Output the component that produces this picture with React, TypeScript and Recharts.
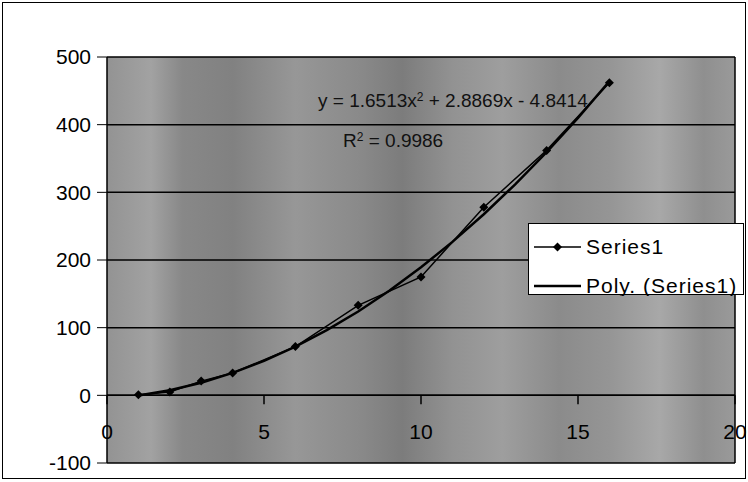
import React from 'react';
import {
  ComposedChart,
  Scatter,
  XAxis,
  YAxis,
  CartesianGrid,
  ReferenceLine,
  Legend,
} from 'recharts';

// Series1 observed values
const seriesX = [1, 2, 3, 4, 6, 8, 10, 12, 14, 16];
const seriesY = [1, 5, 21, 33, 72, 133, 175, 278, 362, 462];

// Poly. (Series1) trendline: y = 1.6513x^2 + 2.8869x - 4.8414, sampled at x = 1..16
const trendX = [1, 2, 3, 4, 5, 6, 7, 8, 9, 10, 11, 12, 13, 14, 15, 16];
const trendY = [
  -0.3, 7.54, 18.68, 33.13, 50.88, 71.93, 96.28, 123.94, 154.9, 189.16, 226.72,
  267.59, 311.76, 359.23, 410.0, 464.08,
];

const xTicks = [0, 5, 10, 15, 20];
const yTicks = [-100, 0, 100, 200, 300, 400, 500];

const equationText = 'y = 1.6513x';
const equationRest = ' + 2.8869x - 4.8414';
const rSquaredText = ' = 0.9986';

const seriesData = seriesX.map((x, i) => ({ x, y: seriesY[i] }));
const trendData = trendX.map((x, i) => ({ x, y: trendY[i] }));

const FONT = '"Liberation Sans", Arial, sans-serif';

const Diamond = (props: any) => {
  const { cx, cy } = props;
  if (cx == null || cy == null) return <g />;
  const r = 4.5;
  return (
    <path
      d={`M${cx},${cy - r}L${cx + r},${cy}L${cx},${cy + r}L${cx - r},${cy}Z`}
      fill="#000"
    />
  );
};

const NoDot = () => <g />;

const LegendBox = () => (
  <div
    style={{
      width: 216,
      height: 72,
      background: '#fff',
      border: '1px solid #000',
      boxSizing: 'border-box',
      position: 'relative',
    }}
  >
    <svg width={216} height={72} style={{ position: 'absolute', left: 0, top: 0 }}>
      <line x1={5} y1={23} x2={52} y2={23} stroke="#000" strokeWidth={1.5} />
      <path d="M28.5,18.5L33,23L28.5,27.5L24,23Z" fill="#000" />
      <line x1={5} y1={62} x2={52} y2={62} stroke="#000" strokeWidth={2.5} />
      <text x={57} y={30} fontFamily={FONT} fontSize={21} letterSpacing={1}>
        Series1
      </text>
      <text x={57} y={69} fontFamily={FONT} fontSize={21} letterSpacing={1}>
        Poly. (Series1)
      </text>
    </svg>
  </div>
);

const supStyle: React.CSSProperties = { fontSize: 12, verticalAlign: 'top', lineHeight: '16px' };

export default function App() {
  return (
    <div style={{ position: 'absolute', left: 0, top: 0, width: 748, height: 482, background: '#fff' }}>
      <svg width={0} height={0} style={{ position: 'absolute' }}>
        <defs>
          <linearGradient id="plotBg" x1="0" y1="0" x2="1" y2="0">
            <stop offset="0" stopColor="#939393" />
            <stop offset="0.07" stopColor="#a2a2a2" />
            <stop offset="0.12" stopColor="#888888" />
            <stop offset="0.2" stopColor="#818181" />
            <stop offset="0.3" stopColor="#979797" />
            <stop offset="0.4" stopColor="#8a8a8a" />
            <stop offset="0.47" stopColor="#7c7c7c" />
            <stop offset="0.55" stopColor="#929292" />
            <stop offset="0.63" stopColor="#9e9e9e" />
            <stop offset="0.72" stopColor="#8b8b8b" />
            <stop offset="0.8" stopColor="#959595" />
            <stop offset="0.88" stopColor="#a8a8a8" />
            <stop offset="0.95" stopColor="#8f8f8f" />
            <stop offset="1" stopColor="#9a9a9a" />
          </linearGradient>
        </defs>
      </svg>
      <div
        style={{
          position: 'absolute',
          left: 2,
          top: 2,
          width: 744,
          height: 477,
          border: '1px solid #000',
          boxSizing: 'border-box',
        }}
      />
      <div style={{ position: 'absolute', left: 0, top: 0 }}>
        <ComposedChart
          width={748}
          height={482}
          margin={{ top: 57, right: 13, bottom: 19, left: 0 }}
        >
          <CartesianGrid
            vertical={false}
            stroke="#000"
            strokeWidth={1.5}
            fill="url(#plotBg)"
            fillOpacity={1}
          />
          <XAxis
            type="number"
            dataKey="x"
            domain={[0, 20]}
            ticks={xTicks}
            interval={0}
            mirror
            axisLine={false}
            tickLine={false}
            tickSize={24}
            tickMargin={0}
            allowDataOverflow
            tick={{ fill: '#000', fontSize: 21, fontFamily: FONT }}
          />
          <YAxis
            type="number"
            dataKey="y"
            domain={[-100, 500]}
            ticks={yTicks}
            interval={0}
            width={107}
            axisLine={{ stroke: '#000', strokeWidth: 1.5 }}
            tickLine={{ stroke: '#000' }}
            tickSize={10}
            tickMargin={6}
            allowDataOverflow
            tick={{ fill: '#000', fontSize: 21, fontFamily: FONT }}
          />
          <ReferenceLine x={20} stroke="#000" strokeWidth={1.5} />
          <ReferenceLine y={0} stroke="#000" strokeWidth={1.5} />
          {xTicks.map((t) => (
            <ReferenceLine
              key={t}
              segment={[
                { x: t, y: 0 },
                { x: t, y: -13 },
              ]}
              stroke="#000"
              strokeWidth={1.5}
            />
          ))}
          <Scatter
            name="Poly. (Series1)"
            data={trendData}
            line={{ stroke: '#000', strokeWidth: 2.5 }}
            lineType="joint"
            shape={NoDot}
            legendType="line"
            isAnimationActive={false}
          />
          <Scatter
            name="Series1"
            data={seriesData}
            line={{ stroke: '#000', strokeWidth: 1.5 }}
            lineType="joint"
            shape={Diamond}
            legendType="diamond"
            isAnimationActive={false}
          />
          <Legend
            layout="horizontal"
            align="center"
            verticalAlign="middle"
            content={LegendBox}
            wrapperStyle={{ position: 'absolute', left: 528, top: 223, width: 216, height: 72 }}
          />
        </ComposedChart>
      </div>
      <div
        style={{
          position: 'absolute',
          left: 318,
          top: 89,
          fontFamily: FONT,
          fontSize: 19,
          lineHeight: '24px',
          color: '#111',
          whiteSpace: 'nowrap',
        }}
      >
        {equationText}
        <sup style={supStyle}>2</sup>
        {equationRest}
      </div>
      <div
        style={{
          position: 'absolute',
          left: 343,
          top: 129,
          fontFamily: FONT,
          fontSize: 19,
          lineHeight: '24px',
          color: '#111',
          whiteSpace: 'nowrap',
        }}
      >
        R<sup style={supStyle}>2</sup>
        {rSquaredText}
      </div>
    </div>
  );
}
